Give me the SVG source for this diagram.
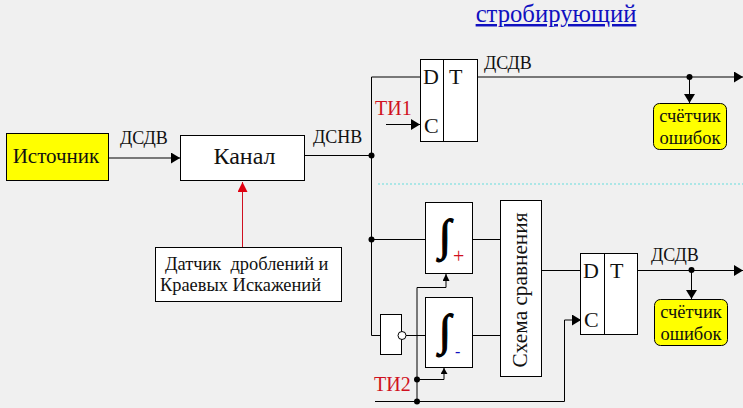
<svg xmlns="http://www.w3.org/2000/svg" width="743" height="408" viewBox="0 0 743 408">
<style>
text{font-family:"Liberation Serif","Times New Roman",serif;fill:#111}
.box{fill:#fff;stroke:#000;stroke-width:1}
.y{fill:#ffff00;stroke:#000;stroke-width:1}
.w{fill:none;stroke:#000;stroke-width:1}
.m{text-anchor:middle}
.l{font-size:18px}
.r{font-size:20px;fill:#d01020}
.c{font-size:18.500px}
.i{font-size:44px;font-weight:bold;stroke:#000;stroke-width:1.200px;fill:#000}
.f{font-size:22px}
</style>
<defs>
<marker id="a" markerUnits="userSpaceOnUse" markerWidth="10" markerHeight="12" refX="9" refY="5.5" orient="auto"><path d="M0 0L9 5.500L0 11Z" fill="#000"/></marker>
<marker id="s" markerUnits="userSpaceOnUse" markerWidth="7" markerHeight="8" refX="6" refY="3.500" orient="auto"><path d="M0 0L6 3.500L0 7Z" fill="#000"/></marker>
<marker id="t" markerUnits="userSpaceOnUse" markerWidth="8" markerHeight="8" refX="7" refY="3.500" orient="auto"><path d="M0 0L7 3.500L0 7Z" fill="#000"/></marker>
<marker id="r" markerUnits="userSpaceOnUse" markerWidth="12" markerHeight="12" refX="10" refY="5" orient="auto"><path d="M0 0L10 5L0 10Z" fill="#e00010"/></marker>
</defs>
<rect width="743" height="408" fill="#f0f0f0"/>
<text id="title" x="556" y="22" class="m" font-size="24.700" style="fill:#1010c0;text-decoration:underline">стробирующий</text>
<path d="M378 184H743" stroke="#66dddd" stroke-width="1" stroke-dasharray="2 2" fill="none"/>
<g id="connectors">
<path class="w" d="M108.500 158H180" marker-end="url(#a)"/>
<path class="w" d="M304.500 155.500H371.500"/>
<path d="M242.500 247V182" fill="none" stroke="#d01020" stroke-width="1" marker-end="url(#r)"/>
<path class="w" d="M420 77H371.500V335.500H380.500"/>
<path class="w" d="M386 124.500H420" marker-end="url(#a)"/>
<path class="w" d="M477.500 77H743" marker-end="url(#a)"/>
<path class="w" d="M689.500 77V103" marker-end="url(#a)"/>
<path class="w" d="M371.500 239.500H425.500"/>
<path class="w" d="M406 335.500H425.500"/>
<path class="w" d="M472.500 239.500H500.500"/>
<path class="w" d="M472.500 335.500H500.500"/>
<path class="w" d="M541.500 270.500H580.500"/>
<path class="w" d="M375 401.500H564.500V320H581" marker-end="url(#a)"/>
<path class="w" d="M417 401.500V287.500H446V274" marker-end="url(#t)"/>
<path class="w" d="M417 379.500H444V368" marker-end="url(#s)"/>
<path class="w" d="M637.500 270.500H743" marker-end="url(#a)"/>
<path class="w" d="M691.500 270.500V299" marker-end="url(#a)"/>
<g fill="#000">
<circle cx="371.500" cy="155.500" r="3"/>
<circle cx="371.500" cy="239.500" r="3"/>
<circle cx="689.500" cy="77" r="3"/>
<circle cx="691.500" cy="270" r="3"/>
<circle cx="417" cy="379.500" r="3"/>
<circle cx="417" cy="401.500" r="3"/>
</g>
</g>
<g id="source"><rect class="y" x="6.500" y="133.500" width="102" height="47"/><text x="56" y="163" class="m" font-size="21">Источник</text></g>
<g id="channel"><rect class="box" x="180.500" y="135.500" width="124" height="45"/><text x="244.500" y="164" class="m" font-size="24">Канал</text></g>
<g id="sensor"><rect class="box" x="155.500" y="247.500" width="186" height="54"/>
<text x="165" y="270" font-size="18.400" xml:space="preserve">Датчик  дроблений и</text><text x="160" y="291" font-size="18.400">Краевых Искажений</text></g>
<text id="l1" x="120" y="144" class="l">ДСДВ</text>
<text id="l2" x="313" y="143" class="l">ДСНВ</text>
<text id="l3" x="484" y="69" class="l">ДСДВ</text>
<text id="l4" x="651" y="261" class="l">ДСДВ</text>
<text id="ti1" x="375" y="115" class="r">ТИ1</text>
<text id="ti2" x="374" y="391" class="r">ТИ2</text>
<g id="ff1"><rect class="box" x="420.500" y="59.500" width="57" height="82"/><path class="w" d="M443.500 59.500V141.500"/><text x="423" y="84" class="f">D</text><text x="449" y="84" class="f">T</text><text x="424" y="133" class="f">C</text></g>
<g id="counter1"><rect class="y" x="653.500" y="103.500" width="73" height="46" rx="6"/><text x="690" y="122" class="m c">счётчик</text><text x="690" y="144" class="m c">ошибок</text></g>
<g id="int1"><rect class="box" x="425.500" y="202.500" width="47" height="71"/><text x="439" y="250" class="i">∫</text><text x="453" y="263" font-size="20" style="fill:#d01020">+</text></g>
<g id="gate"><rect class="box" x="380.500" y="314.500" width="21" height="40"/><circle cx="402" cy="335.500" r="4" fill="#fff" stroke="#000"/></g>
<g id="int2"><rect class="box" x="425.500" y="297.500" width="47" height="70"/><text x="439" y="345" class="i">∫</text><text x="455" y="357" font-size="16" style="fill:#1010c0">-</text></g>
<g id="compare"><rect class="box" x="500.500" y="200.500" width="41" height="176"/><text transform="translate(527 290) rotate(-90)" class="m" font-size="21.300">Схема сравнения</text></g>
<g id="ff2"><rect class="box" x="580.500" y="253.500" width="57" height="81"/><path class="w" d="M604.500 253.500V334.500"/><text x="583" y="278" class="f">D</text><text x="610" y="278" class="f">T</text><text x="584" y="327" class="f">C</text></g>
<g id="counter2"><rect class="y" x="654.500" y="299.500" width="73" height="46" rx="6"/><text x="691" y="318" class="m c">счётчик</text><text x="691" y="340" class="m c">ошибок</text></g>
</svg>
